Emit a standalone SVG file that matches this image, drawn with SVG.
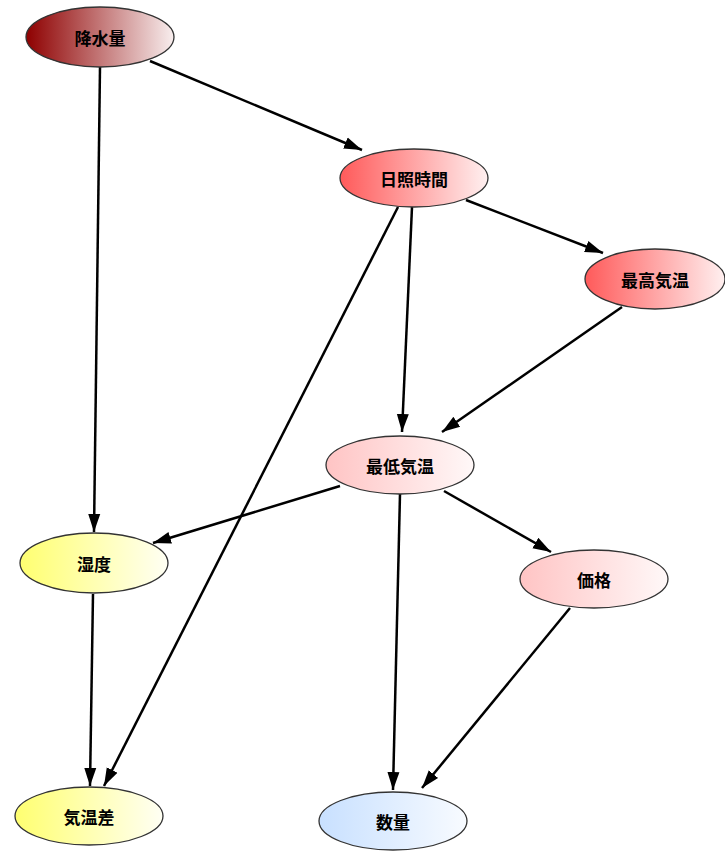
<svg xmlns="http://www.w3.org/2000/svg" width="725" height="851" viewBox="0 0 725 851">
<style>
.n ellipse{stroke:#333;stroke-width:1.3}
.n text{font-family:"Noto Sans CJK JP","Noto Sans CJK SC",sans-serif;font-weight:bold;font-size:17px;fill:#000;text-anchor:middle;dominant-baseline:central}
#edges line{stroke:#000;stroke-width:2.5;marker-end:url(#ah)}
</style>
<defs>
<marker id="ah" markerUnits="userSpaceOnUse" markerWidth="20" markerHeight="14" refX="18" refY="6" orient="auto" viewBox="0 0 20 12">
<path d="M0,0 L18,6 L0,12 Z" fill="#000"/>
</marker>
<linearGradient id="gDark"><stop offset="0" stop-color="#8e0000"/><stop offset="1" stop-color="#f8eeee"/></linearGradient>
<linearGradient id="gRed"><stop offset="0" stop-color="#ff5a5a"/><stop offset="1" stop-color="#fff0f0"/></linearGradient>
<linearGradient id="gPink"><stop offset="0" stop-color="#ffc4c4"/><stop offset="1" stop-color="#fff8f8"/></linearGradient>
<linearGradient id="gYel"><stop offset="0" stop-color="#ffff70"/><stop offset="1" stop-color="#fffff4"/></linearGradient>
<linearGradient id="gBlue"><stop offset="0" stop-color="#c8e0ff"/><stop offset="1" stop-color="#f8fbff"/></linearGradient>
</defs>
<g id="edges">
<line x1="150" y1="61" x2="362" y2="150"/>
<line x1="100" y1="67" x2="94" y2="532"/>
<line x1="466" y1="200" x2="603" y2="253"/>
<line x1="412" y1="207" x2="402" y2="432"/>
<line x1="398" y1="207" x2="104" y2="786"/>
<line x1="622" y1="307" x2="442" y2="432"/>
<line x1="340" y1="486" x2="153" y2="543"/>
<line x1="444" y1="491" x2="551" y2="552"/>
<line x1="400" y1="494" x2="393" y2="790"/>
<line x1="93" y1="594" x2="90" y2="786"/>
<line x1="570" y1="608" x2="422" y2="788"/>
</g>
<g id="n1" class="n"><ellipse cx="100" cy="37" rx="74" ry="30" fill="url(#gDark)"/><text x="100" y="37">降水量</text></g>
<g id="n2" class="n"><ellipse cx="414" cy="178" rx="74" ry="29" fill="url(#gRed)"/><text x="414" y="178">日照時間</text></g>
<g id="n3" class="n"><ellipse cx="655" cy="279" rx="70" ry="30" fill="url(#gRed)"/><text x="655" y="279">最高気温</text></g>
<g id="n4" class="n"><ellipse cx="400" cy="465" rx="74" ry="29" fill="url(#gPink)"/><text x="400" y="465">最低気温</text></g>
<g id="n5" class="n"><ellipse cx="94" cy="563" rx="74" ry="30" fill="url(#gYel)"/><text x="94" y="563">湿度</text></g>
<g id="n6" class="n"><ellipse cx="594" cy="579" rx="74" ry="29" fill="url(#gPink)"/><text x="594" y="579">価格</text></g>
<g id="n7" class="n"><ellipse cx="89" cy="816" rx="74" ry="29" fill="url(#gYel)"/><text x="89" y="816">気温差</text></g>
<g id="n8" class="n"><ellipse cx="393" cy="821" rx="74" ry="29" fill="url(#gBlue)"/><text x="393" y="821">数量</text></g>
</svg>
